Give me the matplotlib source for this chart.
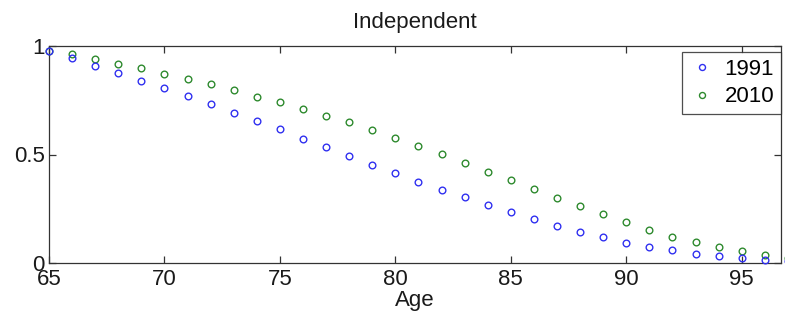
import matplotlib
matplotlib.use("Agg")
import matplotlib.pyplot as plt

plt.rcParams['font.family'] = ['Liberation Sans', 'DejaVu Sans']

ages = list(range(65, 98))
y1991 = [0.975, 0.943, 0.909, 0.877, 0.840, 0.805, 0.771, 0.733, 0.693, 0.656,
         0.616, 0.573, 0.535, 0.494, 0.453, 0.413, 0.375, 0.338, 0.304, 0.266,
         0.234, 0.203, 0.169, 0.143, 0.118, 0.094, 0.074, 0.058, 0.041, 0.032,
         0.022, 0.014, 0.010]
y2010 = [0.975, 0.963, 0.940, 0.918, 0.897, 0.872, 0.848, 0.823, 0.796, 0.766,
         0.740, 0.711, 0.679, 0.648, 0.613, 0.576, 0.538, 0.502, 0.462, 0.421,
         0.382, 0.340, 0.301, 0.263, 0.224, 0.187, 0.152, 0.120, 0.097, 0.072,
         0.055, 0.037, 0.022]
labels = ['1991', '2010']
xticks = [65, 70, 75, 80, 85, 90, 95]
yticks = [0, 0.5, 1]
yticklabels = ['0', '0.5', '1']

fig = plt.figure(figsize=(7.85, 3.2), dpi=100)
ax = fig.add_axes([49/785, 1-263/320, (781-49)/785, (263-46)/320])

fs = 16
ax.plot(ages, y1991, 'o', ms=4.8, mfc='none', mec='#3030f0', mew=1.0,
        label=labels[0], clip_on=False, zorder=3)
ax.plot(ages, y2010, 'o', ms=4.8, mfc='none', mec='#2e8a2e', mew=1.0,
        label=labels[1], clip_on=False, zorder=2)

ax.set_xlim(65, 96.7)
ax.set_ylim(0, 1)
ax.set_xticks(xticks)
ax.set_yticks(yticks)
ax.set_yticklabels(yticklabels)
ax.tick_params(direction='in', length=5, width=0.9, top=True, right=True,
               labelsize=fs, colors='#333333', labelcolor='#1a1a1a')
ax.tick_params(axis='x', pad=4)
ax.tick_params(axis='y', pad=3)
for s in ax.spines.values():
    s.set_color('#333333')
    s.set_linewidth(0.9)

ax.set_title('Independent', fontsize=fs, pad=13, color='#1a1a1a')
ax.set_xlabel('Age', fontsize=fs, labelpad=0, color='#1a1a1a')

leg = ax.legend(loc='upper right', bbox_to_anchor=(1.0, 0.972), fontsize=fs,
                frameon=True, fancybox=False, handlelength=1.2,
                handletextpad=0.4, borderpad=0.3, labelspacing=0.3,
                borderaxespad=0.0, markerscale=0.9)
leg.get_frame().set_edgecolor('#222222')
leg.get_frame().set_linewidth(0.9)

fig.savefig('out.png', dpi=100)
